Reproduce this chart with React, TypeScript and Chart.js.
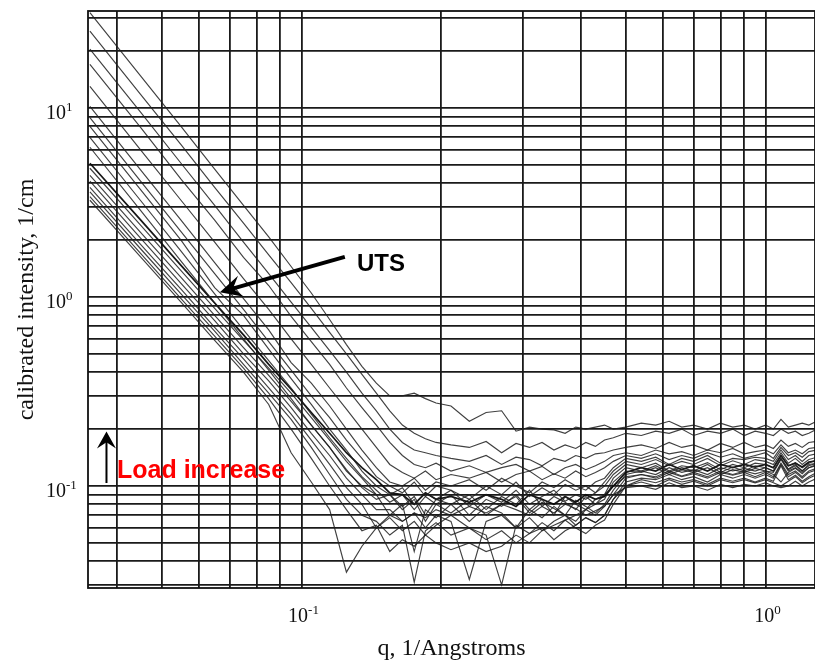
import React, { useEffect, useRef } from 'react';
import { Chart, registerables } from 'chart.js';

Chart.register(...registerables);

// q grid (1/Angstroms)
const qValues = [
  0.035, 0.045, 0.055, 0.065, 0.075, 0.085, 0.095, 0.105, 0.115, 0.125,
  0.135, 0.145, 0.155, 0.165, 0.175, 0.185, 0.195, 0.21,
  0.23, 0.25, 0.27, 0.29, 0.31, 0.33, 0.35, 0.37, 0.39, 0.41, 0.43, 0.45,
  0.47, 0.50, 0.54, 0.58, 0.62, 0.66, 0.70, 0.75, 0.80, 0.85, 0.90, 0.95,
  1.00, 1.04, 1.08, 1.12, 1.16, 1.20, 1.24, 1.29,
];

// calibrated intensity (1/cm), one array per load step
const curve01 = [32, 14.8, 8.0, 4.75, 3.05, 2.08, 1.45, 1.05, 0.76, 0.56,
  0.43, 0.35, 0.30, 0.30, 0.31, 0.29, 0.275, 0.265,
  0.22, 0.245, 0.25, 0.195, 0.205, 0.2, 0.198, 0.19, 0.205, 0.2, 0.205, 0.21,
  0.2, 0.205, 0.215, 0.21, 0.22, 0.205, 0.21, 0.2, 0.215, 0.205, 0.21, 0.2,
  0.21, 0.2, 0.225, 0.205, 0.21, 0.215, 0.21, 0.22];
const curve02 = [25.5, 11.8, 6.4, 3.8, 2.46, 1.67, 1.19, 0.87, 0.65, 0.5,
  0.39, 0.31, 0.25, 0.21, 0.19, 0.178, 0.17, 0.165,
  0.16, 0.172, 0.15, 0.168, 0.16, 0.17, 0.155, 0.165, 0.158, 0.17, 0.162, 0.175,
  0.18, 0.19, 0.185, 0.195, 0.19, 0.2, 0.185, 0.195, 0.19, 0.2, 0.185, 0.195,
  0.19, 0.185, 0.2, 0.19, 0.195, 0.185, 0.19, 0.2];
const curve03 = [20.5, 9.5, 5.1, 3.05, 1.95, 1.33, 0.94, 0.69, 0.52, 0.4,
  0.31, 0.25, 0.2, 0.17, 0.155, 0.15, 0.145, 0.14,
  0.135, 0.145, 0.13, 0.142, 0.138, 0.128, 0.14, 0.135, 0.145, 0.14, 0.148, 0.15,
  0.155, 0.16, 0.165, 0.158, 0.17, 0.16, 0.165, 0.155, 0.168, 0.16, 0.17, 0.16,
  0.165, 0.158, 0.175, 0.162, 0.168, 0.16, 0.17, 0.172];
const curve04 = [17, 7.9, 4.2, 2.55, 1.62, 1.15, 0.79, 0.58, 0.44, 0.33,
  0.26, 0.21, 0.17, 0.145, 0.13, 0.125, 0.132, 0.12,
  0.128, 0.118, 0.125, 0.13, 0.12, 0.127, 0.115, 0.125, 0.13, 0.122, 0.128, 0.135,
  0.145, 0.15, 0.145, 0.155, 0.148, 0.152, 0.145, 0.155, 0.15, 0.158, 0.148, 0.152,
  0.155, 0.148, 0.165, 0.15, 0.155, 0.148, 0.158, 0.16];
const curve05 = [13, 6.0, 3.25, 1.95, 1.25, 0.86, 0.6, 0.44, 0.33, 0.255,
  0.2, 0.16, 0.13, 0.118, 0.11, 0.12, 0.108, 0.115,
  0.11, 0.118, 0.105, 0.115, 0.12, 0.108, 0.116, 0.11, 0.12, 0.112, 0.118, 0.125,
  0.135, 0.145, 0.14, 0.148, 0.138, 0.145, 0.14, 0.15, 0.142, 0.148, 0.14, 0.145,
  0.15, 0.14, 0.16, 0.145, 0.15, 0.142, 0.152, 0.155];
const curve06 = [10.2, 4.7, 2.55, 1.52, 0.98, 0.67, 0.45, 0.35, 0.265, 0.2,
  0.155, 0.125, 0.105, 0.1, 0.11, 0.095, 0.105, 0.1,
  0.108, 0.095, 0.11, 0.1, 0.092, 0.105, 0.098, 0.108, 0.1, 0.095, 0.105, 0.11,
  0.125, 0.14, 0.135, 0.142, 0.13, 0.14, 0.135, 0.145, 0.132, 0.14, 0.138, 0.142,
  0.14, 0.135, 0.155, 0.138, 0.145, 0.135, 0.145, 0.148];
const curve07 = [8.9, 4.1, 2.22, 1.33, 0.86, 0.58, 0.41, 0.3, 0.23, 0.175,
  0.14, 0.112, 0.1, 0.092, 0.105, 0.088, 0.1, 0.095,
  0.085, 0.1, 0.09, 0.105, 0.088, 0.098, 0.09, 0.102, 0.095, 0.1, 0.092, 0.105,
  0.12, 0.135, 0.13, 0.138, 0.128, 0.135, 0.13, 0.14, 0.128, 0.136, 0.13, 0.138,
  0.135, 0.13, 0.15, 0.132, 0.14, 0.13, 0.138, 0.142];
const curve08 = [8.0, 3.7, 2.0, 1.12, 0.8, 0.53, 0.37, 0.27, 0.2, 0.155,
  0.12, 0.1, 0.09, 0.098, 0.08, 0.092, 0.085, 0.095,
  0.078, 0.09, 0.082, 0.095, 0.08, 0.088, 0.095, 0.083, 0.09, 0.085, 0.092, 0.1,
  0.115, 0.13, 0.125, 0.132, 0.12, 0.128, 0.125, 0.133, 0.122, 0.13, 0.125, 0.132,
  0.13, 0.125, 0.145, 0.128, 0.133, 0.125, 0.132, 0.138];
const curve09 = [7.0, 3.24, 1.75, 1.04, 0.67, 0.46, 0.33, 0.24, 0.18, 0.14,
  0.112, 0.095, 0.082, 0.09, 0.075, 0.088, 0.08, 0.09,
  0.07, 0.085, 0.078, 0.09, 0.075, 0.085, 0.07, 0.088, 0.08, 0.075, 0.085, 0.09,
  0.11, 0.125, 0.12, 0.128, 0.118, 0.125, 0.12, 0.13, 0.118, 0.126, 0.12, 0.128,
  0.125, 0.12, 0.14, 0.123, 0.13, 0.12, 0.128, 0.132];
const curve10 = [6.2, 2.87, 1.55, 0.93, 0.6, 0.41, 0.29, 0.21, 0.16, 0.122,
  0.098, 0.085, 0.09, 0.078, 0.088, 0.07, 0.085, 0.08,
  0.09, 0.075, 0.088, 0.08, 0.095, 0.078, 0.088, 0.082, 0.075, 0.088, 0.08, 0.085,
  0.105, 0.12, 0.118, 0.125, 0.115, 0.122, 0.118, 0.125, 0.115, 0.122, 0.118, 0.124,
  0.12, 0.118, 0.138, 0.12, 0.125, 0.118, 0.125, 0.13];
const curve11 = [5.1, 2.56, 1.47, 0.93, 0.63, 0.44, 0.325, 0.245, 0.19, 0.15,
  0.125, 0.108, 0.092, 0.09, 0.08, 0.092, 0.085, 0.088,
  0.082, 0.09, 0.085, 0.078, 0.09, 0.085, 0.08, 0.088, 0.082, 0.09, 0.085, 0.088,
  0.1, 0.118, 0.125, 0.12, 0.13, 0.122, 0.128, 0.12, 0.13, 0.125, 0.13, 0.126,
  0.13, 0.125, 0.145, 0.128, 0.132, 0.126, 0.134, 0.136];
const curve12 = [4.8, 2.4, 1.38, 0.87, 0.59, 0.42, 0.31, 0.23, 0.175, 0.135,
  0.11, 0.09, 0.09, 0.075, 0.085, 0.065, 0.08, 0.072,
  0.085, 0.07, 0.08, 0.088, 0.072, 0.082, 0.076, 0.07, 0.084, 0.078, 0.072, 0.08,
  0.095, 0.115, 0.12, 0.115, 0.125, 0.118, 0.122, 0.115, 0.125, 0.12, 0.124, 0.12,
  0.125, 0.12, 0.14, 0.122, 0.128, 0.12, 0.13, 0.132];
const curve13 = [4.4, 2.2, 1.27, 0.8, 0.54, 0.385, 0.28, 0.21, 0.16, 0.12,
  0.1, 0.09, 0.07, 0.08, 0.045, 0.075, 0.068, 0.08,
  0.065, 0.078, 0.072, 0.06, 0.075, 0.068, 0.078, 0.07, 0.065, 0.075, 0.07, 0.078,
  0.09, 0.11, 0.115, 0.112, 0.12, 0.113, 0.118, 0.112, 0.12, 0.115, 0.12, 0.116,
  0.12, 0.115, 0.105, 0.118, 0.124, 0.116, 0.125, 0.128];
const curve14 = [4.1, 2.05, 1.18, 0.75, 0.5, 0.36, 0.26, 0.19, 0.145, 0.11,
  0.09, 0.075, 0.075, 0.065, 0.072, 0.06, 0.07, 0.065,
  0.032, 0.065, 0.07, 0.06, 0.068, 0.058, 0.065, 0.07, 0.062, 0.068, 0.064, 0.07,
  0.085, 0.105, 0.11, 0.108, 0.115, 0.108, 0.112, 0.105, 0.115, 0.11, 0.115, 0.11,
  0.115, 0.11, 0.13, 0.112, 0.118, 0.11, 0.118, 0.122];
const curve15 = [3.8, 1.9, 1.1, 0.69, 0.47, 0.33, 0.24, 0.175, 0.13, 0.098,
  0.08, 0.06, 0.068, 0.058, 0.065, 0.055, 0.062, 0.07,
  0.06, 0.055, 0.03, 0.062, 0.056, 0.064, 0.058, 0.066, 0.06, 0.056, 0.062, 0.066,
  0.08, 0.1, 0.105, 0.1, 0.108, 0.102, 0.106, 0.1, 0.108, 0.104, 0.108, 0.104,
  0.108, 0.104, 0.1, 0.106, 0.112, 0.104, 0.11, 0.115];
const curve16 = [3.6, 1.8, 1.04, 0.66, 0.44, 0.31, 0.225, 0.16, 0.115, 0.085,
  0.07, 0.065, 0.055, 0.062, 0.031, 0.058, 0.064, 0.055,
  0.06, 0.052, 0.058, 0.05, 0.056, 0.06, 0.052, 0.058, 0.062, 0.068, 0.064, 0.07,
  0.085, 0.1, 0.108, 0.104, 0.11, 0.105, 0.108, 0.102, 0.11, 0.106, 0.11, 0.105,
  0.11, 0.106, 0.128, 0.108, 0.114, 0.106, 0.112, 0.118];
const curve17 = [3.4, 1.7, 0.98, 0.62, 0.42, 0.29, 0.2, 0.14, 0.1, 0.075,
  0.058, 0.062, 0.045, 0.052, 0.048, 0.055, 0.05, 0.046,
  0.05, 0.045, 0.048, 0.055, 0.05, 0.058, 0.062, 0.066, 0.07, 0.075, 0.08, 0.09,
  0.1, 0.112, 0.115, 0.11, 0.118, 0.112, 0.116, 0.11, 0.118, 0.114, 0.118, 0.112,
  0.118, 0.112, 0.132, 0.115, 0.12, 0.112, 0.12, 0.124];
const curve18 = [3.25, 1.63, 0.94, 0.59, 0.4, 0.27, 0.15, 0.105, 0.075, 0.035,
  0.048, 0.06, 0.07, 0.065, 0.072, 0.068, 0.075, 0.07,
  0.078, 0.072, 0.08, 0.075, 0.07, 0.078, 0.072, 0.08, 0.076, 0.07, 0.074, 0.078,
  0.09, 0.098, 0.1, 0.096, 0.104, 0.098, 0.1, 0.095, 0.102, 0.098, 0.102, 0.1,
  0.104, 0.1, 0.098, 0.1, 0.106, 0.1, 0.105, 0.11];

const curves = [curve01, curve02, curve03, curve04, curve05, curve06, curve07, curve08, curve09,
  curve10, curve11, curve12, curve13, curve14, curve15, curve16, curve17, curve18];

// grid ticks (log paper)
const xGridTicks = [0.04, 0.05, 0.06, 0.07, 0.08, 0.09, 0.1, 0.2, 0.3, 0.4, 0.5, 0.6, 0.7, 0.8, 0.9, 1];
const yGridTicks = [0.03, 0.04, 0.05, 0.06, 0.07, 0.08, 0.09, 0.1, 0.2, 0.3, 0.4, 0.5, 0.6, 0.7, 0.8, 0.9,
  1, 2, 3, 4, 5, 6, 7, 8, 9, 10, 20, 30];
const xDecadeLabels = [{ value: 0.1, exp: '-1' }, { value: 1, exp: '0' }];
const yDecadeLabels = [{ value: 10, exp: '1' }, { value: 1, exp: '0' }, { value: 0.1, exp: '-1' }];

const xTitle = 'q, 1/Angstroms';
const yTitle = 'calibrated intensity, 1/cm';

const utsLabel = { q: 0.1317, i: 1.38, text: 'UTS' };
const utsArrowTail = { q: 0.124, i: 1.63 };
const utsArrowTip = { q: 0.0667, i: 1.06 };
const loadLabel = { q: 0.04003, i: 0.1106, text: 'Load increase' };
const loadArrowBottom = { q: 0.038, i: 0.1037 };
const loadArrowTop = { q: 0.038, i: 0.194 };

const SERIF = '"Liberation Serif", "Times New Roman", serif';
const SANS = '"Liberation Sans", Arial, sans-serif';

function drawArrow(ctx: CanvasRenderingContext2D, x0: number, y0: number, x1: number, y1: number,
  lw: number, headLen: number, headHalf: number, color: string) {
  const dx = x1 - x0, dy = y1 - y0;
  const len = Math.hypot(dx, dy);
  const ux = dx / len, uy = dy / len;
  const nx = -uy, ny = ux;
  ctx.strokeStyle = color;
  ctx.fillStyle = color;
  ctx.lineWidth = lw;
  ctx.lineCap = 'butt';
  ctx.beginPath();
  ctx.moveTo(x0, y0);
  ctx.lineTo(x1 - ux * headLen * 0.6, y1 - uy * headLen * 0.6);
  ctx.stroke();
  ctx.beginPath();
  ctx.moveTo(x1, y1);
  ctx.lineTo(x1 - ux * headLen + nx * headHalf, y1 - uy * headLen + ny * headHalf);
  ctx.lineTo(x1 - ux * headLen * 0.62, y1 - uy * headLen * 0.62);
  ctx.lineTo(x1 - ux * headLen - nx * headHalf, y1 - uy * headLen - ny * headHalf);
  ctx.closePath();
  ctx.fill();
}

function drawPow(ctx: CanvasRenderingContext2D, x: number, base: number, exp: string, align: 'left' | 'center') {
  ctx.font = `20px ${SERIF}`;
  const wb = ctx.measureText('10').width;
  ctx.font = `13px ${SERIF}`;
  const we = ctx.measureText(exp).width;
  const left = align === 'center' ? x - (wb + we) / 2 : x;
  ctx.textAlign = 'left';
  ctx.textBaseline = 'alphabetic';
  ctx.font = `20px ${SERIF}`;
  ctx.fillText('10', left, base);
  ctx.font = `13px ${SERIF}`;
  ctx.fillText(exp, left + wb, base - 8);
}

const overlayPlugin = {
  id: 'overlay',
  afterDatasetsDraw(chart: any) {
    const { ctx, chartArea: a, scales } = chart;
    const xs = scales.x, ys = scales.y;
    const px = (q: number) => xs.getPixelForValue(q);
    const py = (v: number) => ys.getPixelForValue(v);
    ctx.save();
    // frame
    ctx.strokeStyle = '#111';
    ctx.lineWidth = 1.8;
    ctx.strokeRect(a.left, a.top, a.right - a.left, a.bottom - a.top);

    // tick labels
    ctx.fillStyle = '#111';
    yDecadeLabels.forEach((t) => drawPow(ctx, a.left - 42, py(t.value) + 11, t.exp, 'left'));
    xDecadeLabels.forEach((t) => drawPow(ctx, px(t.value) + 2, a.bottom + 34, t.exp, 'center'));

    // axis titles
    ctx.fillStyle = '#111';
    ctx.font = `24px ${SERIF}`;
    ctx.textAlign = 'center';
    ctx.textBaseline = 'alphabetic';
    ctx.fillText(xTitle, (a.left + a.right) / 2, a.bottom + 67);
    ctx.save();
    ctx.translate(27, (a.top + a.bottom) / 2);
    ctx.rotate(-Math.PI / 2);
    ctx.textBaseline = 'middle';
    ctx.fillText(yTitle, 0, 0);
    ctx.restore();

    // UTS annotation
    drawArrow(ctx, px(utsArrowTail.q), py(utsArrowTail.i), px(utsArrowTip.q), py(utsArrowTip.i), 4, 22, 11, '#000');
    ctx.fillStyle = '#000';
    ctx.font = `bold 24px ${SANS}`;
    ctx.textAlign = 'left';
    ctx.textBaseline = 'alphabetic';
    ctx.fillText(utsLabel.text, px(utsLabel.q), py(utsLabel.i));

    // Load increase annotation
    drawArrow(ctx, px(loadArrowBottom.q), py(loadArrowBottom.i), px(loadArrowTop.q), py(loadArrowTop.i), 2, 17, 9.5, '#000');
    ctx.fillStyle = '#ff0000';
    ctx.font = `bold 25px ${SANS}`;
    ctx.fillText(loadLabel.text, px(loadLabel.q), py(loadLabel.i));
    ctx.restore();
  },
};

export default function App() {
  const canvasRef = useRef<HTMLCanvasElement>(null);

  useEffect(() => {
    const canvas = canvasRef.current;
    if (!canvas) return;
    const datasets = curves.map((vals, k) => ({
      label: `load ${k + 1}`,
      data: qValues.map((q, j) => ({ x: q, y: vals[j] })).filter((p) => p.y !== undefined),
      borderColor: k === 10 ? 'rgba(10,10,10,0.95)' : 'rgba(30,30,30,0.85)',
      borderWidth: k === 10 ? 1.7 : 1.15,
      pointRadius: 0,
      tension: 0,
      fill: false,
    }));
    const chart = new Chart(canvas, {
      type: 'line',
      data: { datasets },
      options: {
        responsive: false,
        animation: false,
        devicePixelRatio: 1,
        layout: { padding: { left: 88, top: 11, right: 0, bottom: 73 } },
        plugins: { legend: { display: false }, tooltip: { enabled: false }, title: { display: false } },
        scales: {
          x: {
            type: 'logarithmic',
            min: 0.03467,
            max: 1.2786,
            ticks: { display: false },
            grid: { color: '#1a1a1a', lineWidth: 1.8, drawTicks: false },
            border: { display: false },
            afterBuildTicks: (s: any) => { s.ticks = xGridTicks.map((v) => ({ value: v })); },
          },
          y: {
            type: 'logarithmic',
            min: 0.02886,
            max: 32.6,
            ticks: { display: false },
            grid: { color: '#1a1a1a', lineWidth: 1.8, drawTicks: false },
            border: { display: false },
            afterBuildTicks: (s: any) => { s.ticks = yGridTicks.map((v) => ({ value: v })); },
          },
        },
      },
      plugins: [overlayPlugin],
    } as any);
    return () => chart.destroy();
  }, []);

  return (
    <div style={{ position: 'fixed', left: 0, top: 0, width: 815, height: 661, background: '#fff' }}>
      <canvas ref={canvasRef} width={815} height={661} style={{ display: 'block', width: 815, height: 661 }} />
    </div>
  );
}
